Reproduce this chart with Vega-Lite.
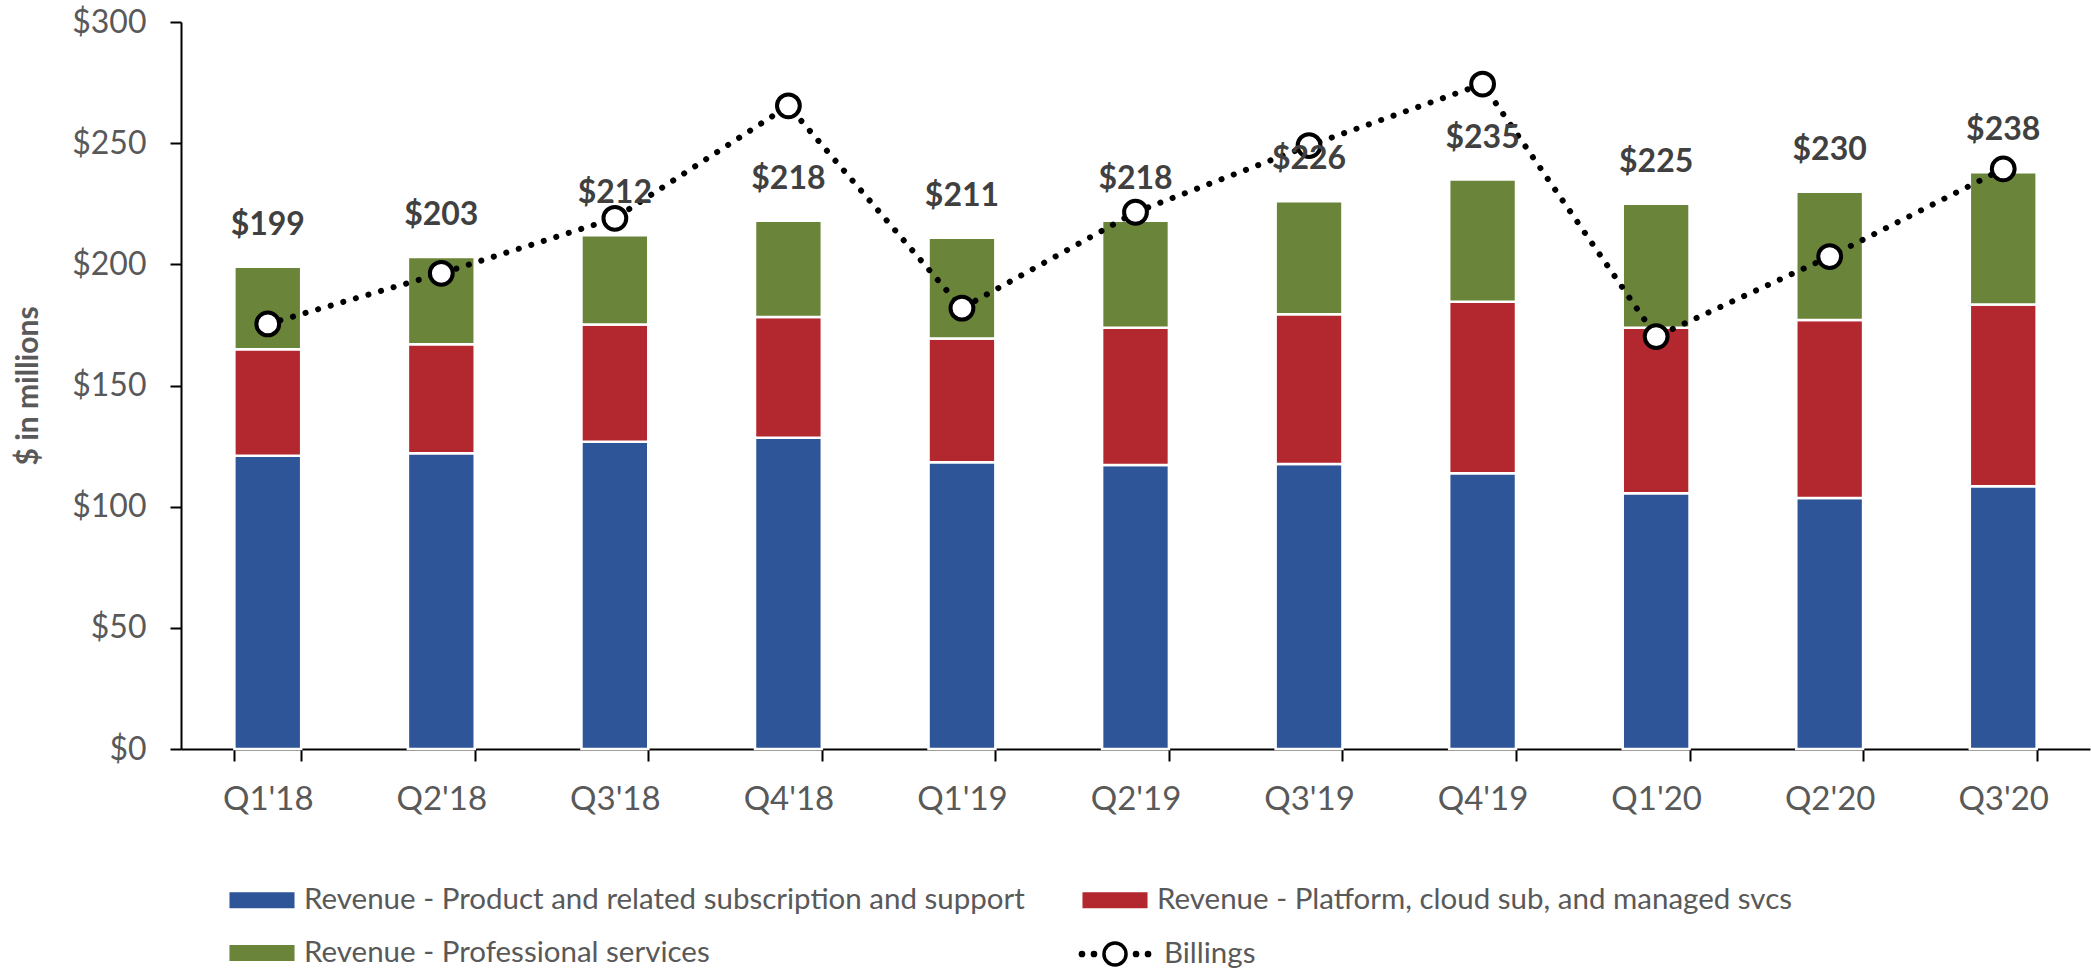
{
  "$schema": "https://vega.github.io/schema/vega-lite/v6.json",
  "width": 1909,
  "height": 727,
  "autosize": {"type": "none"},
  "padding": {"left": 181, "top": 22, "right": 1, "bottom": 225},
  "background": "white",
  "config": {
    "font": "Lato",
    "view": {"stroke": null},
    "axisX": {
      "labelFontSize": 33,
      "labelColor": "#595959",
      "labelPadding": 22,
      "domainColor": "black",
      "domainWidth": 2,
      "tickColor": "black",
      "tickWidth": 2,
      "tickSize": 12,
      "tickBand": "extent",
      "labelAngle": 0
    },
    "axisY": {
      "labelFontSize": 32,
      "labelColor": "#595959",
      "labelPadding": 24,
      "grid": false,
      "domainColor": "black",
      "domainWidth": 2,
      "tickColor": "black",
      "tickWidth": 2,
      "tickSize": 11,
      "titleFontSize": 30,
      "titleFontWeight": "bold",
      "titleColor": "#595959",
      "titlePadding": 28
    },
    "legend": {
      "labelFontSize": 29.5,
      "labelColor": "#595959",
      "labelOffset": 41,
      "labelLimit": 1200,
      "symbolSize": 1024,
      "symbolOpacity": 1
    }
  },
  "datasets": {
    "rev": [
      {"quarter": "Q1'18", "series": "Revenue - Product and related subscription and support", "k": 1, "value": 121},
      {"quarter": "Q1'18", "series": "Revenue - Platform, cloud sub, and managed svcs", "k": 2, "value": 44},
      {"quarter": "Q1'18", "series": "Revenue - Professional services", "k": 3, "value": 34},
      {"quarter": "Q2'18", "series": "Revenue - Product and related subscription and support", "k": 1, "value": 122},
      {"quarter": "Q2'18", "series": "Revenue - Platform, cloud sub, and managed svcs", "k": 2, "value": 45},
      {"quarter": "Q2'18", "series": "Revenue - Professional services", "k": 3, "value": 36},
      {"quarter": "Q3'18", "series": "Revenue - Product and related subscription and support", "k": 1, "value": 126.8},
      {"quarter": "Q3'18", "series": "Revenue - Platform, cloud sub, and managed svcs", "k": 2, "value": 48.4},
      {"quarter": "Q3'18", "series": "Revenue - Professional services", "k": 3, "value": 36.8},
      {"quarter": "Q4'18", "series": "Revenue - Product and related subscription and support", "k": 1, "value": 128.4},
      {"quarter": "Q4'18", "series": "Revenue - Platform, cloud sub, and managed svcs", "k": 2, "value": 49.9},
      {"quarter": "Q4'18", "series": "Revenue - Professional services", "k": 3, "value": 39.7},
      {"quarter": "Q1'19", "series": "Revenue - Product and related subscription and support", "k": 1, "value": 118.3},
      {"quarter": "Q1'19", "series": "Revenue - Platform, cloud sub, and managed svcs", "k": 2, "value": 51.1},
      {"quarter": "Q1'19", "series": "Revenue - Professional services", "k": 3, "value": 41.6},
      {"quarter": "Q2'19", "series": "Revenue - Product and related subscription and support", "k": 1, "value": 117.2},
      {"quarter": "Q2'19", "series": "Revenue - Platform, cloud sub, and managed svcs", "k": 2, "value": 56.6},
      {"quarter": "Q2'19", "series": "Revenue - Professional services", "k": 3, "value": 44.2},
      {"quarter": "Q3'19", "series": "Revenue - Product and related subscription and support", "k": 1, "value": 117.6},
      {"quarter": "Q3'19", "series": "Revenue - Platform, cloud sub, and managed svcs", "k": 2, "value": 61.8},
      {"quarter": "Q3'19", "series": "Revenue - Professional services", "k": 3, "value": 46.6},
      {"quarter": "Q4'19", "series": "Revenue - Product and related subscription and support", "k": 1, "value": 113.8},
      {"quarter": "Q4'19", "series": "Revenue - Platform, cloud sub, and managed svcs", "k": 2, "value": 70.8},
      {"quarter": "Q4'19", "series": "Revenue - Professional services", "k": 3, "value": 50.4},
      {"quarter": "Q1'20", "series": "Revenue - Product and related subscription and support", "k": 1, "value": 105.5},
      {"quarter": "Q1'20", "series": "Revenue - Platform, cloud sub, and managed svcs", "k": 2, "value": 68.3},
      {"quarter": "Q1'20", "series": "Revenue - Professional services", "k": 3, "value": 51.2},
      {"quarter": "Q2'20", "series": "Revenue - Product and related subscription and support", "k": 1, "value": 103.6},
      {"quarter": "Q2'20", "series": "Revenue - Platform, cloud sub, and managed svcs", "k": 2, "value": 73.4},
      {"quarter": "Q2'20", "series": "Revenue - Professional services", "k": 3, "value": 53},
      {"quarter": "Q3'20", "series": "Revenue - Product and related subscription and support", "k": 1, "value": 108.4},
      {"quarter": "Q3'20", "series": "Revenue - Platform, cloud sub, and managed svcs", "k": 2, "value": 75},
      {"quarter": "Q3'20", "series": "Revenue - Professional services", "k": 3, "value": 54.6}
    ],
    "qtr": [
      {"quarter": "Q1'18", "total": 199, "billings": 175.4},
      {"quarter": "Q2'18", "total": 203, "billings": 196.3},
      {"quarter": "Q3'18", "total": 212, "billings": 219},
      {"quarter": "Q4'18", "total": 218, "billings": 265.4},
      {"quarter": "Q1'19", "total": 211, "billings": 181.9},
      {"quarter": "Q2'19", "total": 218, "billings": 221.5},
      {"quarter": "Q3'19", "total": 226, "billings": 249},
      {"quarter": "Q4'19", "total": 235, "billings": 274.4},
      {"quarter": "Q1'20", "total": 225, "billings": 170.2},
      {"quarter": "Q2'20", "total": 230, "billings": 203.2},
      {"quarter": "Q3'20", "total": 238, "billings": 239.4}
    ]
  },
  "encoding": {
    "x": {
      "field": "quarter",
      "type": "nominal",
      "sort": null,
      "scale": {"paddingInner": 0.615, "paddingOuter": 0.3075},
      "axis": {"title": null}
    }
  },
  "layer": [
    {
      "data": {"name": "rev"},
      "mark": {"type": "bar", "stroke": "white", "strokeWidth": 2.5},
      "encoding": {
        "y": {
          "field": "value",
          "type": "quantitative",
          "stack": "zero",
          "title": "$ in millions",
          "scale": {"domain": [0, 300], "nice": false},
          "axis": {
            "values": [0, 50, 100, 150, 200, 250, 300],
            "labelExpr": "'$' + datum.value",
            "titleFontSize": 30
          }
        },
        "order": {"field": "k", "type": "quantitative", "sort": "ascending"},
        "color": {
          "field": "series",
          "type": "nominal",
          "scale": {
            "domain": [
              "Revenue - Product and related subscription and support",
              "Revenue - Platform, cloud sub, and managed svcs",
              "Revenue - Professional services"
            ],
            "range": ["#2E5597", "#B3272E", "#6A843A"]
          },
          "legend": {
            "title": null,
            "orient": "none",
            "direction": "horizontal",
            "legendX": 48,
            "legendY": 861,
            "columns": 2,
            "columnPadding": 53,
            "rowPadding": 21,
            "symbolType": "M-1.08,-0.54H3.08V0.54H-1.08Z"
          }
        }
      }
    },
    {
      "data": {"name": "qtr"},
      "mark": {"type": "line", "color": "black", "strokeWidth": 6, "strokeDash": [0.1, 13], "strokeCap": "round"},
      "encoding": {
        "y": {"field": "billings", "type": "quantitative", "title": "$ in millions"}
      }
    },
    {
      "data": {"name": "qtr"},
      "mark": {"type": "point", "shape": "circle", "filled": true, "stroke": "black", "strokeWidth": 4, "size": 520, "opacity": 1},
      "encoding": {
        "y": {"field": "billings", "type": "quantitative", "title": "$ in millions"},
        "fill": {
          "datum": "Billings",
          "type": "nominal",
          "scale": {"domain": ["Billings"], "range": ["white"]},
          "legend": {
            "title": null,
            "orient": "none",
            "legendX": 906,
            "legendY": 914,
            "symbolType": "M-0.065,0a0.69,0.69 0 1,0 1.38,0a0.69,0.69 0 1,0 -1.38,0ZM-1.54,0a0.1,0.1 0 1,0 0.2,0a0.1,0.1 0 1,0 -0.2,0ZM-0.79,0a0.1,0.1 0 1,0 0.2,0a0.1,0.1 0 1,0 -0.2,0ZM1.84,0a0.1,0.1 0 1,0 0.2,0a0.1,0.1 0 1,0 -0.2,0ZM2.59,0a0.1,0.1 0 1,0 0.2,0a0.1,0.1 0 1,0 -0.2,0Z",
            "symbolStrokeColor": "black",
            "symbolStrokeWidth": 3.5
          }
        }
      }
    },
    {
      "data": {"name": "qtr"},
      "mark": {"type": "text", "baseline": "alphabetic", "align": "center", "dy": -32, "fontSize": 32, "fontWeight": "bold", "color": "#404040"},
      "encoding": {
        "y": {"field": "total", "type": "quantitative", "title": "$ in millions"},
        "text": {"field": "total", "type": "quantitative", "format": "$.0f"}
      }
    }
  ]
}
